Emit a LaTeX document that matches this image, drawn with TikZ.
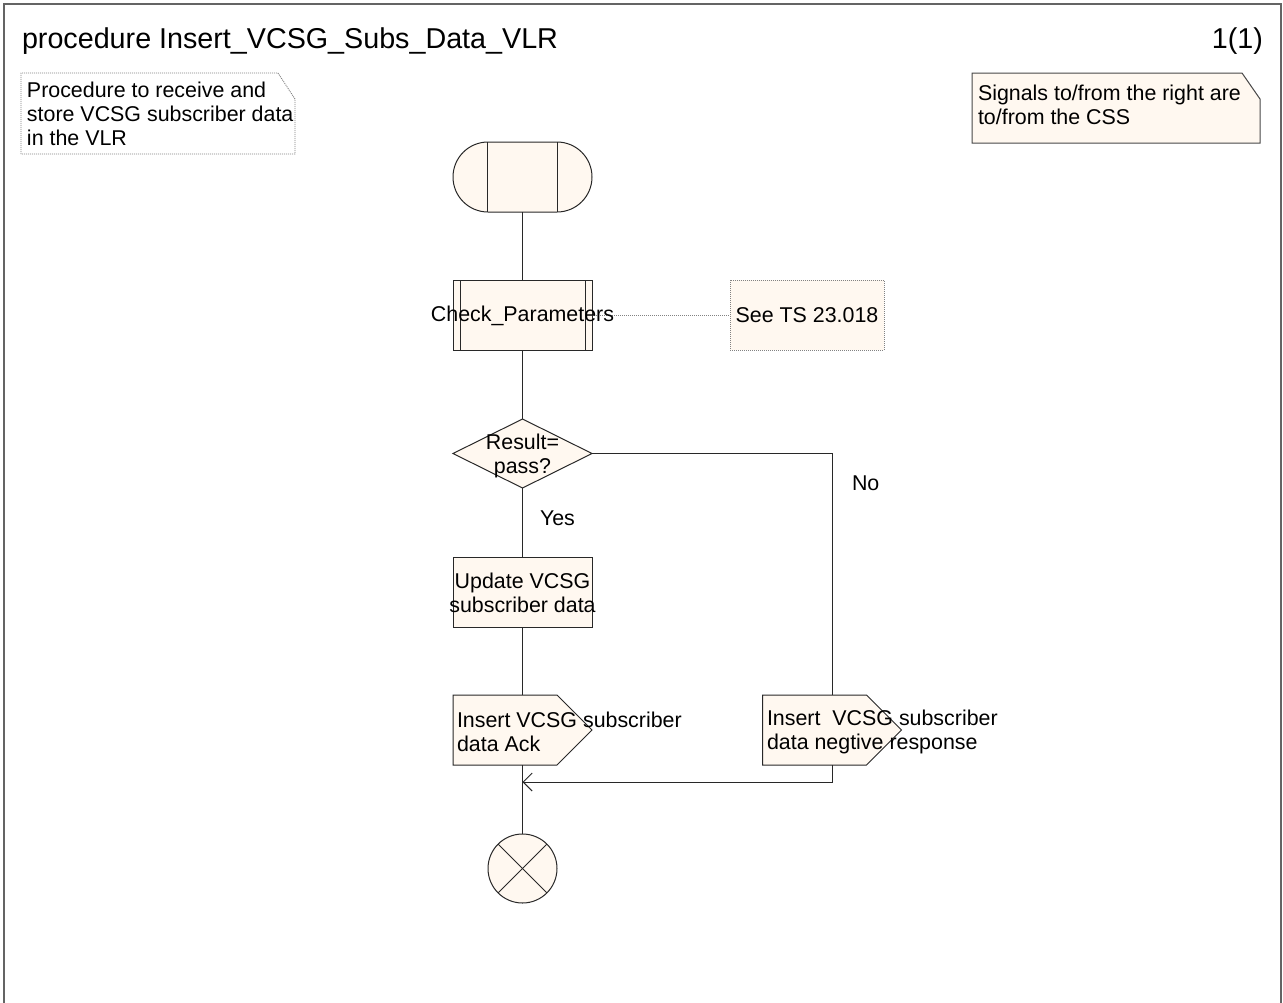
\documentclass[tikz,border=0pt]{standalone}
\usepackage{fontspec}
\setmainfont{Liberation Sans}
\usetikzlibrary{arrows.meta}
\definecolor{cream}{RGB}{255,248,240}
\definecolor{linec}{RGB}{40,40,40}
\definecolor{dotc}{RGB}{130,130,130}
\definecolor{framec}{RGB}{100,100,100}
\begin{document}
\begin{tikzpicture}[x=1pt,y=-1pt,
  every node/.style={inner sep=0pt, outer sep=0pt, font=\fontsize{21.4}{24}\selectfont},
  shp/.style={minimum width=139pt, minimum height=70pt, draw=none},
  box/.style={shp, draw=linec, fill=cream, line width=1pt},
  ln/.style={draw=linec, line width=1pt},
  dotln/.style={draw=dotc, line width=0.9pt, dash pattern=on 1pt off 1pt},
  txt/.style={align=center},
  ltxt/.style={align=left, anchor=west},
  titlefont/.style={font=\fontsize{28.7}{33}\selectfont}
]
\useasboundingbox (0,0) rectangle (1283,1002);
\clip (0,0) rectangle (1283,1002);
\fill[white] (0,0) rectangle (1283,1002);
% frame
\draw[draw=framec, line width=1.3pt] (4,4) rectangle (1281,1030);

% notes
\node[minimum width=274pt, minimum height=81pt] (noteL) at (158,113.5) {};
\draw[dotln, fill=white] (noteL.south west) -- (noteL.north west) -- ([xshift=-17pt]noteL.north east) -- ([yshift=-26pt]noteL.north east) -- (noteL.south east) -- cycle;
\node[minimum width=288pt, minimum height=70pt] (noteR) at (1116,108) {};
\draw[draw=linec!85, line width=1pt, fill=cream] (noteR.south west) -- (noteR.north west) -- ([xshift=-18pt]noteR.north east) -- ([yshift=-26pt]noteR.north east) -- (noteR.south east) -- cycle;

% symbols
\node[box, rounded corners=35pt] (start) at (522.5,177) {};
\draw[ln] ([xshift=34.5pt]start.north west) -- ([xshift=34.5pt]start.south west);
\draw[ln] ([xshift=-34.5pt]start.north east) -- ([xshift=-34.5pt]start.south east);

\node[box] (check) at (522.5,315) {};
\draw[ln] ([xshift=7pt]check.north west) -- ([xshift=7pt]check.south west);
\draw[ln] ([xshift=-7pt]check.north east) -- ([xshift=-7pt]check.south east);

\node[shp, minimum width=154pt, dotln, fill=cream] (seets) at (807,315) {See TS 23.018};

\node[shp, minimum height=69pt] (dec) at (522.5,453.5) {};
\draw[ln, fill=cream] (dec.north) -- (dec.east) -- (dec.south) -- (dec.west) -- cycle;

\node[box] (upd) at (522.5,592) {};

\node[shp] (ack) at (522.5,730) {};
\draw[ln, fill=cream] (ack.north west) -- ([xshift=-35pt]ack.north east) -- (ack.east) -- ([xshift=-35pt]ack.south east) -- (ack.south west) -- cycle;

\node[shp] (neg) at (832,730) {};
\draw[ln, fill=cream] (neg.north west) -- ([xshift=-35pt]neg.north east) -- (neg.east) -- ([xshift=-35pt]neg.south east) -- (neg.south west) -- cycle;

\node[circle, draw=linec, fill=cream, line width=1pt, minimum size=69pt] (stop) at (522.5,868.5) {};
\draw[ln] (stop.north west) -- (stop.south east);
\draw[ln] (stop.north east) -- (stop.south west);

\coordinate (merge) at (522.5,782);

% connectors
\draw[ln] (start.south) -- (check.north);
\draw[dotln] (check.east) -- (seets.west);
\draw[ln] (check.south) -- (dec.north);
\draw[ln] (dec.south) -- (upd.north);
\draw[ln] (upd.south) -- (ack.north);
\draw[ln] (dec.east) -| (neg.north);
\draw[ln] (ack.south) -- (stop.north);
\draw[ln, -{Straight Barb[length=9pt,width=18pt]}] (neg.south) |- (merge);

% texts
\node[anchor=base west, titlefont] (title) at (22,48) {procedure Insert\_VCSG\_Subs\_Data\_VLR};
\node[anchor=base east, titlefont] (page) at (1263,48.5) {1(1)};
\node[ltxt] (noteLtxt) at (27,114) {Procedure to receive and\\store VCSG subscriber data\\in the VLR};
\node[ltxt] (noteRtxt) at (978,105) {Signals to/from the right are\\to/from the CSS};
\node (checktxt) at (522.5,316) {Check\_Parameters};
\node[txt] (dectxt) at (522.5,456) {Result=\\pass?};
\node[txt] (updtxt) at (522.5,593) {Update VCSG\\subscriber data};
\node[ltxt] (acktxt) at (457,732) {Insert VCSG subscriber\\data Ack};
\node[ltxt] (negtxt) at (767,732) {Insert\ \ VCSG subscriber\\data negtive response};
\node[anchor=base west] (yes) at (540,525) {Yes};
\node[anchor=base west] (no) at (852,490) {No};
\end{tikzpicture}
\end{document}
